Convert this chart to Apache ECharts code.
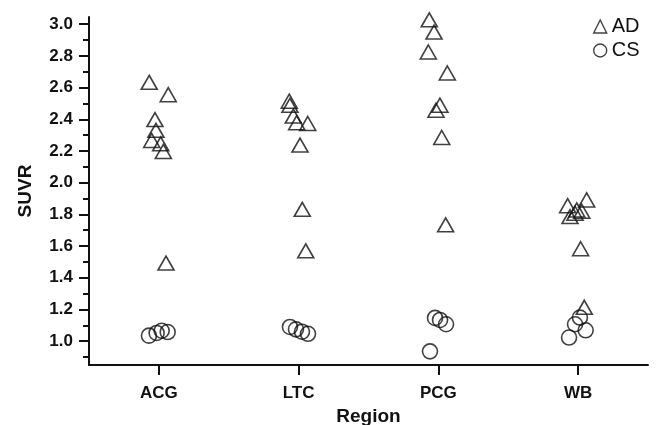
<!DOCTYPE html>
<html>
<head>
<meta charset="utf-8">
<script src="https://cdn.jsdelivr.net/npm/echarts@6/dist/echarts.min.js"></script>
<style>
html,body{margin:0;padding:0;background:#fff;}
#chart{width:660px;height:425px;}
</style>
</head>
<body>
<div id="chart"></div>
<script>
// Categories and ticks
const regions = ['ACG', 'LTC', 'PCG', 'WB'];
const regionTicks = [1, 2, 3, 4];
const yMajorTicks = [1.0, 1.2, 1.4, 1.6, 1.8, 2.0, 2.2, 2.4, 2.6, 2.8, 3.0];
const yMinorTicks = [0.9, 1.1, 1.3, 1.5, 1.7, 1.9, 2.1, 2.3, 2.5, 2.7, 2.9];

// AD group: jittered region position and SUVR
const adX = [
  0.931, 1.067, 0.972, 0.979, 0.949, 1.013, 1.032, 1.051,
  1.933, 1.938, 1.962, 1.986, 2.065, 2.010, 2.026, 2.051,
  2.935, 2.969, 2.928, 3.064, 3.011, 2.983, 3.024, 3.052,
  4.061, 3.925, 3.990, 3.978, 3.942, 4.026, 4.018, 4.044
];
const adSUVR = [
  2.633, 2.555, 2.398, 2.330, 2.266, 2.245, 2.197, 1.493,
  2.514, 2.488, 2.420, 2.378, 2.373, 2.237, 1.832, 1.570,
  3.027, 2.950, 2.824, 2.692, 2.489, 2.457, 2.285, 1.734,
  1.891, 1.855, 1.828, 1.807, 1.786, 1.820, 1.583, 1.214
];

// CS group
const csX = [
  0.929, 0.984, 1.020, 1.063,
  1.938, 1.981, 2.024, 2.067,
  2.976, 3.012, 3.055, 2.940,
  4.013, 3.978, 4.054, 3.935
];
const csSUVR = [
  1.035, 1.052, 1.066, 1.058,
  1.090, 1.075, 1.060, 1.047,
  1.147, 1.134, 1.107, 0.936,
  1.149, 1.107, 1.069, 1.023
];

const ink = '#111';
const font = 'Liberation Sans, Arial, Helvetica, sans-serif';

const chart = echarts.init(document.getElementById('chart'), null, {renderer: 'canvas'});
chart.setOption({
  animation: false,
  backgroundColor: '#fff',
  grid: {left: 89, right: 12, top: 17, bottom: 60, containLabel: false, outerBoundsMode: 'none'},
  legend: {
    data: ['AD', 'CS'],
    orient: 'vertical',
    left: 588,
    top: 11,
    itemWidth: 13,
    itemHeight: 13,
    itemGap: 3,
    itemStyle: {color: 'rgba(0,0,0,0)', borderColor: ink, borderWidth: 1.4},
    textStyle: {fontFamily: font, fontSize: 20, color: ink, lineHeight: 21}
  },
  xAxis: {
    type: 'value',
    min: 0.5,
    max: 4.5,
    name: 'Region',
    nameLocation: 'middle',
    nameGap: 35,
    nameTextStyle: {fontFamily: font, fontSize: 19, fontWeight: 'bold', color: ink},
    axisLine: {show: true, lineStyle: {color: ink, width: 2}},
    axisTick: {show: true, customValues: regionTicks, length: 10, lineStyle: {color: ink, width: 2}},
    axisLabel: {
      customValues: regionTicks,
      formatter: function (v) { return regions[Math.round(v) - 1] || ''; },
      fontFamily: font, fontSize: 17, fontWeight: 'bold', color: ink, margin: 20
    },
    splitLine: {show: false}
  },
  yAxis: [{
    type: 'value',
    min: 0.85,
    max: 3.045,
    name: 'SUVR',
    nameLocation: 'middle',
    nameGap: 54,
    nameTextStyle: {fontFamily: font, fontSize: 19, fontWeight: 'bold', color: ink},
    axisLine: {show: true, lineStyle: {color: ink, width: 2}},
    axisTick: {show: true, customValues: yMajorTicks, length: 10, lineStyle: {color: ink, width: 2}},
    axisLabel: {
      customValues: yMajorTicks,
      formatter: function (v) { return v.toFixed(1); },
      fontFamily: font, fontSize: 17, fontWeight: 'bold', color: ink, margin: 16
    },
    splitLine: {show: false}
  }, {
    type: 'value',
    min: 0.85,
    max: 3.045,
    position: 'left',
    offset: 0,
    axisLine: {show: false},
    axisTick: {show: true, customValues: yMinorTicks, length: 6, lineStyle: {color: ink, width: 2}},
    axisLabel: {show: false},
    splitLine: {show: false}
  }],
  series: [{
    name: 'AD',
    type: 'scatter',
    symbol: 'triangle',
    symbolSize: [16, 14],
    itemStyle: {color: 'rgba(0,0,0,0)', borderColor: ink, borderWidth: 1.6},
    data: adX.map(function (x, i) { return [x, adSUVR[i]]; })
  }, {
    name: 'CS',
    type: 'scatter',
    symbol: 'circle',
    symbolSize: 15,
    itemStyle: {color: 'rgba(0,0,0,0)', borderColor: ink, borderWidth: 1.6},
    data: csX.map(function (x, i) { return [x, csSUVR[i]]; })
  }]
});
</script>
</body>
</html>
